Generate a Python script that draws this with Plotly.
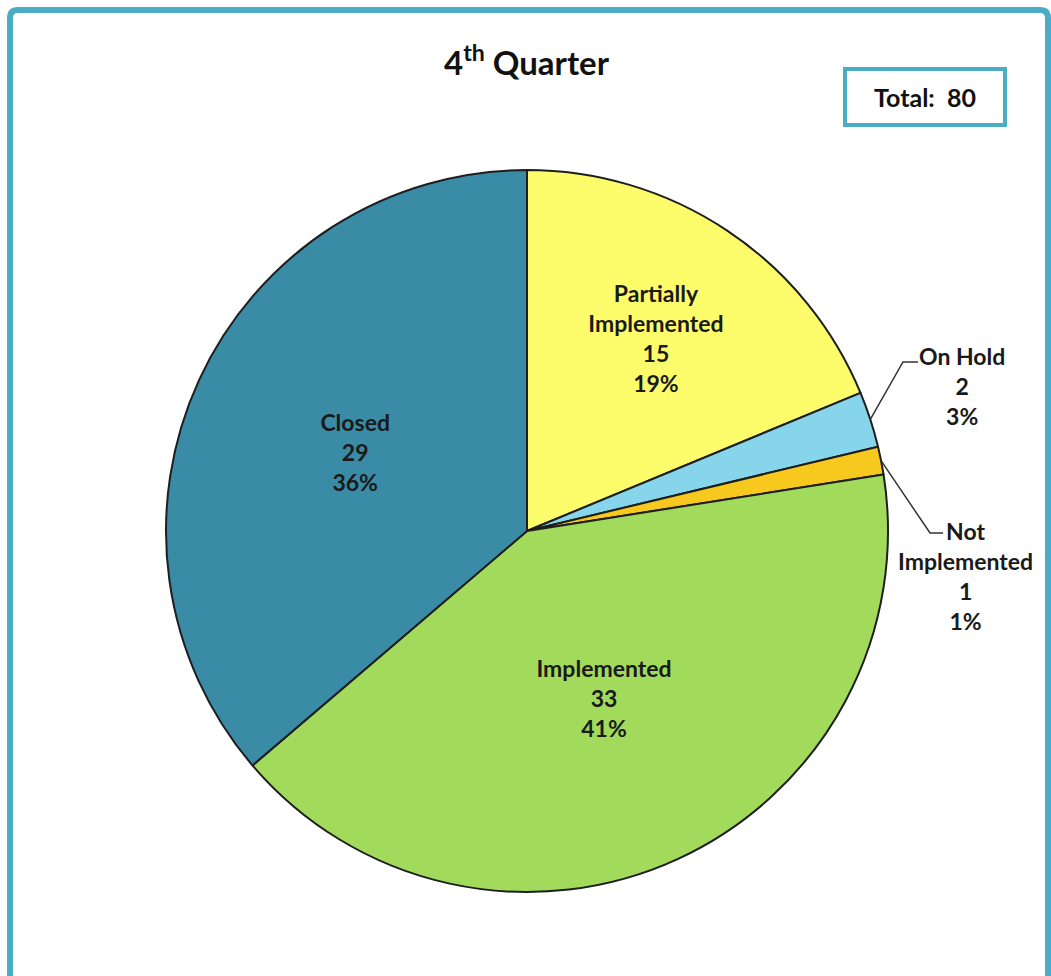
import math
import plotly.graph_objects as go

# Recommendation status counts for the quarter
categories = ["Partially Implemented", "On Hold", "Not Implemented", "Implemented", "Closed"]
display_names = ["Partially<br>Implemented", "On Hold", "Not<br>Implemented", "Implemented", "Closed"]
counts = [15, 2, 1, 33, 29]
colors = ["#FDFD6C", "#86D5EA", "#F7C81E", "#A2DB5C", "#3A8BA6"]
# Small slices get callout labels outside the pie instead of inside text
callout = [False, True, True, False, False]

W, H = 1051, 976
FRAME = "#4BACC6"
FONT = "Lato"
TEXT = "#1A1A1A"

# Pie placement in pixels
CX, CY, R = 527, 531, 361

total = sum(counts)
pcts = [round(100 * c / total + 1e-9) for c in counts]
label_text = [f"{n}<br>{c}<br>{p}%" for n, c, p in zip(display_names, counts, pcts)]
inside_templates = ["" if co else "%{text}" for co in callout]


def px(x):
    return x / W


def py(y):
    return 1 - y / H


fig = go.Figure(
    go.Pie(
        labels=categories,
        values=counts,
        text=label_text,
        sort=False,
        direction="clockwise",
        rotation=0,
        marker=dict(colors=colors, line=dict(color="#1E1E1E", width=2)),
        texttemplate=inside_templates,
        textposition="inside",
        insidetextorientation="horizontal",
        textfont=dict(family=FONT, size=23, color=TEXT, weight="bold"),
        showlegend=False,
        domain=dict(x=[px(CX - R), px(CX + R)], y=[py(CY + R), py(CY - R)]),
        hoverinfo="label+value+percent",
    )
)

# Callout label anchors (text centre) and leader elbows, in pixels
callout_layout = {
    1: dict(text_xy=(962, 386), elbow=(903, 362), end=(918, 362)),
    2: dict(text_xy=(965, 576), elbow=(930, 533), end=(943, 533)),
}

shapes = [
    dict(
        type="path", xref="paper", yref="paper",
        path=(f"M {px(10)},{py(1040)} L {px(10)},{py(18)} "
              f"Q {px(10)},{py(10)} {px(18)},{py(10)} "
              f"L {px(1040)},{py(10)} Q {px(1048)},{py(10)} {px(1048)},{py(18)} "
              f"L {px(1048)},{py(1040)}"),
        line=dict(color=FRAME, width=6),
    )
]
annotations = [
    dict(
        text="4<sup>th</sup> Quarter",
        xref="paper", yref="paper", x=px(527), y=py(60),
        xanchor="center", yanchor="middle", showarrow=False,
        font=dict(family=FONT, size=33, color="#111111", weight="bold"),
    ),
    dict(
        text=f"Total:  {total}",
        xref="paper", yref="paper", x=px(924.5), y=py(96.5),
        xanchor="center", yanchor="middle", showarrow=False,
        font=dict(family=FONT, size=25, color="#111111", weight="bold"),
        bordercolor=FRAME, borderwidth=4, borderpad=11, bgcolor="white",
        width=134,
    ),
]

cum = 0
for i, c in enumerate(counts):
    start = cum
    cum += c
    if not callout[i]:
        continue
    mid = math.radians(360 * (start + c / 2) / total)
    ex, ey = CX + R * math.sin(mid), CY - R * math.cos(mid)
    lay = callout_layout[i]
    (bx, by), (tx, ty) = lay["elbow"], lay["end"]
    shapes.append(dict(
        type="path", xref="paper", yref="paper",
        path=f"M {px(ex)},{py(ey)} L {px(bx)},{py(by)} L {px(tx)},{py(ty)}",
        line=dict(color="#333333", width=1.5),
    ))
    ax, ay = lay["text_xy"]
    annotations.append(dict(
        text=label_text[i], xref="paper", yref="paper", x=px(ax), y=py(ay),
        xanchor="center", yanchor="middle", showarrow=False,
        font=dict(family=FONT, size=23, color=TEXT, weight="bold"),
    ))

fig.update_layout(
    width=W,
    height=H,
    margin=dict(l=0, r=0, t=0, b=0),
    paper_bgcolor="white",
    font=dict(family=FONT),
    shapes=shapes,
    annotations=annotations,
)

fig.write_html("out.html")
